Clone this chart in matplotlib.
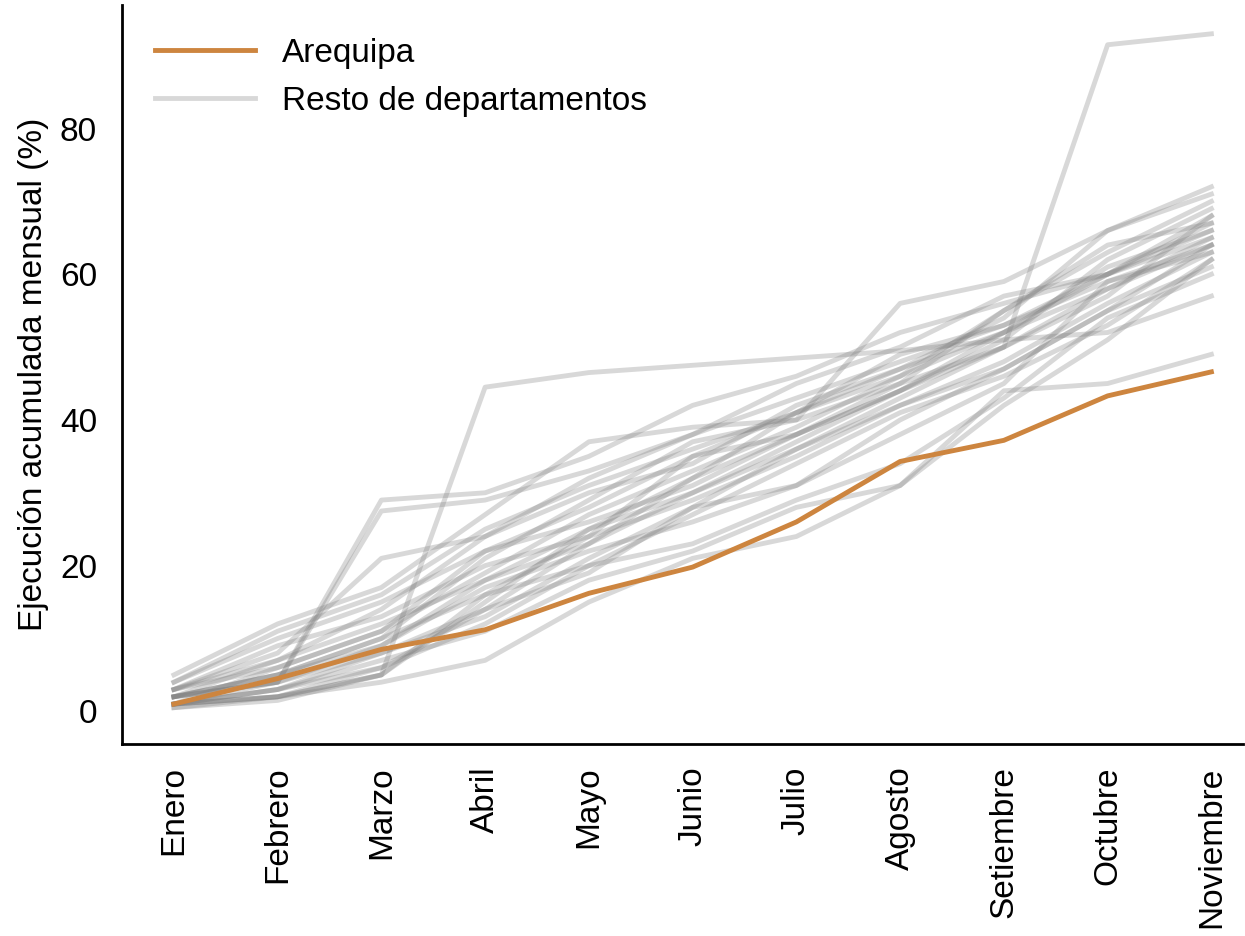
import matplotlib
matplotlib.use("Agg")
import matplotlib.pyplot as plt

plt.rcParams['font.family'] = ['Liberation Sans', 'DejaVu Sans']

meses = ["Enero", "Febrero", "Marzo", "Abril", "Mayo", "Junio", "Julio",
         "Agosto", "Setiembre", "Octubre", "Noviembre"]

arequipa = [1, 4.5, 8.5, 11.2, 16.2, 19.8, 26, 34.3, 37.2, 43.3, 46.6]

resto = [
    [0.5, 1.5, 5, 44.5, 46.5, 47.5, 48.5, 49.5, 51, 52, 57],
    [1, 2, 5, 15, 25, 32, 38, 45, 50, 91.5, 93],
    [1, 2, 4, 7, 15, 21, 24, 31, 44, 45, 49],
    [2, 4, 29, 30, 35, 42, 46, 52, 56, 60, 66],
    [2, 4, 27.5, 29, 33, 38, 43, 48, 53, 59, 64],
    [5, 12, 17, 27, 37, 39, 40, 56, 59, 66, 72],
    [3, 8, 21, 24, 30, 34, 42, 47, 52, 58, 65],
    [1, 6, 11, 22, 28, 35, 41, 46, 55, 63, 70],
    [2, 5, 9, 18, 25, 30, 36, 43, 50, 57, 68],
    [3, 9, 13, 20, 24, 29, 35, 42, 48, 56, 63],
    [1, 3, 6, 12, 20, 27, 34, 41, 46, 53, 62],
    [0.5, 2, 5, 16, 20, 23, 29, 34, 43, 54, 60],
    [4, 10, 15, 22, 26, 31, 38, 44, 52, 60, 67],
    [2, 7, 12, 18, 23, 30, 37, 44, 51, 62, 69],
    [1, 4, 8, 14, 19, 28, 31, 40, 47, 55, 64],
    [3, 6, 11, 19, 27, 33, 39, 46, 52, 61, 66],
    [2, 4, 9, 17, 22, 26, 31, 38, 45, 59, 63],
    [1, 3, 7, 11, 18, 22, 28, 31, 42, 51, 62],
    [4, 11, 16, 25, 31, 36, 41, 47, 54, 66, 71],
    [2, 5, 10, 21, 29, 37, 40, 45, 55, 64, 67],
    [3, 7, 14, 24, 32, 38, 45, 50, 57, 60, 65],
    [1, 2, 6, 14, 23, 32, 41, 49, 53, 60, 68],
    [2, 5, 10, 16, 24, 35, 38, 44, 50, 58, 64],
    [1, 3, 8, 13, 21, 28, 36, 42, 47, 55, 61],
]

fig, ax = plt.subplots(figsize=(12.45, 9.36), dpi=100)
x = range(len(meses))

for i, serie in enumerate(resto):
    ax.plot(x, serie, color="gray", alpha=0.3, lw=3.5,
            label="Resto de departamentos" if i == 0 else None)
ax.plot(x, arequipa, color="#cd853f", lw=3.5, label="Arequipa")

handles, labels = ax.get_legend_handles_labels()
leg = ax.legend(handles[::-1], labels[::-1], loc="upper left", frameon=False,
                fontsize=24, handlelength=3, borderaxespad=0.6)

ax.set_xticks(list(x))
ax.set_xticklabels(meses, rotation=90, fontsize=24)
ax.set_yticks([0, 20, 40, 60, 80])
ax.tick_params(axis='y', labelsize=24, length=0, pad=18)
ax.tick_params(axis='x', length=0, pad=16)
ax.set_ylabel("Ejecución acumulada mensual (%)", fontsize=24, labelpad=8)
ax.set_ylim(-4.5, 97)
ax.set_xlim(-0.5, 10.3)
for s in ["top", "right"]:
    ax.spines[s].set_visible(False)
for s in ["left", "bottom"]:
    ax.spines[s].set_linewidth(2)

fig.subplots_adjust(left=0.098, right=0.998, top=0.995, bottom=0.205)
fig.savefig("out.png")
